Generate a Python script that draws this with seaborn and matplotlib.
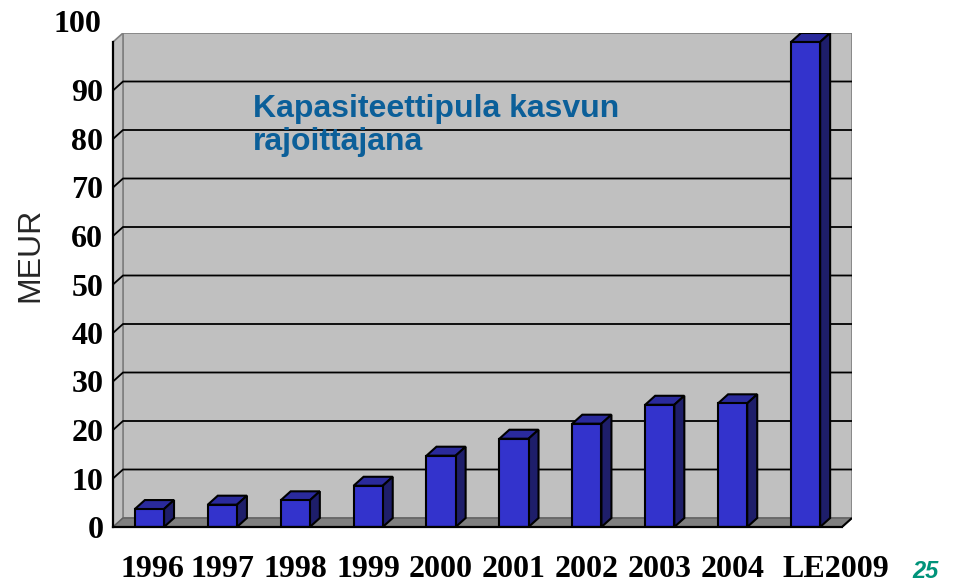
import matplotlib
matplotlib.use("Agg")
import matplotlib.pyplot as plt
import matplotlib.transforms as mtransforms
from matplotlib.patches import Polygon
import seaborn as sns

# data
years = ["1996", "1997", "1998", "1999", "2000", "2001", "2002", "2003", "2004", "LE2009"]
meur = [3.7, 4.6, 5.5, 8.5, 14.7, 18.2, 21.3, 25.2, 25.5, 100]
y_ticks = list(range(0, 101, 10))

sns.set_style("white")
plt.rcParams["font.family"] = ["Liberation Serif", "DejaVu Serif"]
plt.rcParams["font.weight"] = "bold"

W, H = 959, 582
fig = plt.figure(figsize=(W / 100, H / 100), dpi=100)
# axes box: front plane x 113..842, back wall reaches to 852; 0 at y=527, top of wall y=33
ax = fig.add_axes([113 / W, (H - 527) / H, (852 - 113) / W, (527 - 33) / H])

px_x = 72.9   # pixels per category
px_y = 4.85   # pixels per MEUR
DX = 10 / px_x
DY = 9 / px_y

wall = "#c0c0c0"
edge_grey = "#808080"

# walls and floor
ax.add_patch(Polygon([(-0.5 + DX, DY), (9.5 + DX, DY), (9.5 + DX, 100 + DY), (-0.5 + DX, 100 + DY)],
                     closed=True, facecolor=wall, edgecolor=edge_grey, lw=1.2, zorder=0))
ax.add_patch(Polygon([(-0.5, 0), (-0.5 + DX, DY), (-0.5 + DX, 100 + DY), (-0.5, 100)],
                     closed=True, facecolor=wall, edgecolor=edge_grey, lw=1.2, zorder=0))
ax.add_patch(Polygon([(-0.5, 0), (9.5, 0), (9.5 + DX, DY), (-0.5 + DX, DY)],
                     closed=True, facecolor=edge_grey, edgecolor="#606060", lw=1.0, zorder=0.6))
ax.plot([9.5, 9.5 + DX], [0, DY], color="black", lw=1.5, zorder=0.7, solid_capstyle="butt")

# gridlines on back wall with slanted stubs on side wall
for v in y_ticks[1:-1]:
    ax.plot([-0.5, -0.5 + DX, 9.5 + DX], [v, v + DY, v + DY], color="black", lw=1.3, zorder=0.5)

# bars (front faces)
sns.barplot(x=years, y=meur, color="#3333cc", width=0.4, edgecolor="black",
            linewidth=1.5, saturation=1, ax=ax, zorder=3)

for p in list(ax.patches):
    if p.get_zorder() != 3:
        continue
    x0, w, h = p.get_x(), p.get_width(), p.get_height()
    top = [(x0, h), (x0 + w, h), (x0 + w + DX, h + DY), (x0 + DX, h + DY)]
    side = [(x0 + w, 0), (x0 + w + DX, DY), (x0 + w + DX, h + DY), (x0 + w, h)]
    ax.add_patch(Polygon(top, closed=True, facecolor="#2a2a9c", edgecolor="black", lw=1.5, zorder=2.5))
    ax.add_patch(Polygon(side, closed=True, facecolor="#1e1e6a", edgecolor="black", lw=1.5, zorder=2.5))

ax.set_xlim(-0.5, 9.5 + DX)
ax.set_ylim(0, 100 + DY)
ax.set_xlabel("")
ax.set_ylabel("")

for s in ["top", "right"]:
    ax.spines[s].set_visible(False)
ax.spines["left"].set_bounds(0, 100)
ax.spines["bottom"].set_bounds(-0.5, 9.5)
for s in ["left", "bottom"]:
    ax.spines[s].set_color("black")
    ax.spines[s].set_linewidth(1.6)
    ax.spines[s].set_zorder(4)

ax.set_yticks(y_ticks)
ax.set_yticklabels([str(t) for t in y_ticks])
ax.tick_params(axis="y", direction="out", length=6, width=1.5, pad=1, labelsize=23, colors="black")

ax.set_xticks([i - 0.5 for i in range(len(years) + 1)])
ax.set_xticklabels([])
ax.set_xticks(range(len(years)), minor=True)
ax.set_xticklabels(years, minor=True)
ax.tick_params(axis="x", which="major", direction="out", length=6, width=1.5)
ax.tick_params(axis="x", which="minor", length=0, pad=20, labelsize=23, colors="black")

# label tweaks like the original
lbl100 = ax.get_yticklabels()[-1]
lbl100.set_transform(lbl100.get_transform() + mtransforms.ScaledTranslation(-0.02, 0.21, fig.dpi_scale_trans))
lblle = ax.get_xticklabels(minor=True)[-1]
lblle.set_transform(lblle.get_transform() + mtransforms.ScaledTranslation(0.30, 0, fig.dpi_scale_trans))
lbl96 = ax.get_xticklabels(minor=True)[0]
lbl96.set_transform(lbl96.get_transform() + mtransforms.ScaledTranslation(0.03, 0, fig.dpi_scale_trans))

fig.text(30 / W, 1 - 255 / H, "MEUR", rotation=90, ha="center", va="center",
         fontsize=23, fontweight="normal", family="Liberation Sans")
fig.text(253 / W, 1 - 94 / H, "Kapasiteettipula kasvun\nrajoittajana", ha="left", va="top",
         fontsize=23, fontweight="bold", family="Liberation Sans", color="#0b5f99",
         linespacing=1.15)
fig.text(926 / W, 1 - 572 / H, "25", ha="center", va="center", fontsize=17,
         fontweight="bold", style="italic", family="Liberation Sans", color="#00937a")

fig.savefig("out.png", dpi=100)
